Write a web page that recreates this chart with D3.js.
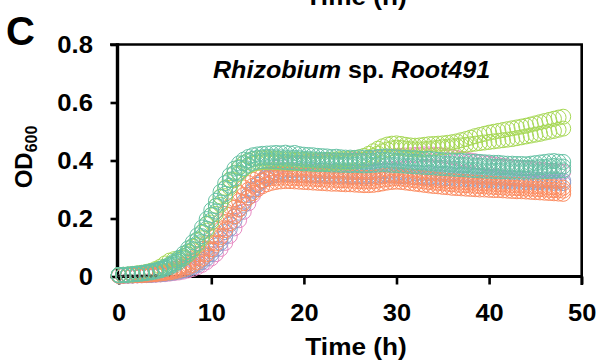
<!DOCTYPE html>
<html><head><meta charset="utf-8">
<script src="https://cdn.jsdelivr.net/npm/d3@7"></script>
<style>
html,body{margin:0;padding:0;background:#fff;}
svg{display:block;font-family:"Liberation Sans",Arial,Helvetica,sans-serif;}
</style></head>
<body><svg id="chart" width="598" height="362"></svg>
<script>
// ---- data (OD600) ----
const hours = [0,0.5,1,1.5,2,2.5,3,3.5,4,4.5,5,5.5,6,6.5,7,7.5,8,8.5,9,9.5,
 10,10.5,11,11.5,12,12.5,13,13.5,14,14.5,15,15.5,16,16.5,17,17.5,18,18.5,19,19.5,
 20,20.5,21,21.5,22,22.5,23,23.5,24,24.5,25,25.5,26,26.5,27,27.5,28,28.5,29,29.5,
 30,30.5,31,31.5,32,32.5,33,33.5,34,34.5,35,35.5,36,36.5,37,37.5,38,38.5,39,39.5,
 40,40.5,41,41.5,42,42.5,43,43.5,44,44.5,45,45.5,46,46.5,47,47.5,48];

const tealA = [.005,.006,.007,.008,.010,.012,.015,.018,.022,.027,
 .034,.042,.052,.064,.079,.097,.118,.142,.169,.198,
 .229,.261,.292,.322,.349,.372,.390,.403,.412,.418,
 .421,.423,.424,.425,.426,.425,.427,.424,.426,.422,
 .420,.419,.418,.416,.415,.414,.412,.413,.411,.410,
 .410,.409,.411,.410,.409,.410,.412,.413,.414,.412,
 .411,.410,.409,.408,.408,.406,.405,.406,.404,.402,
 .401,.400,.400,.398,.399,.397,.396,.396,.395,.394,
 .393,.392,.392,.390,.389,.389,.388,.388,.387,.389,
 .391,.393,.395,.397,.398,.396,.395];
const tealB = [.004,.005,.006,.007,.008,.010,.012,.014,.017,.021,
 .026,.032,.040,.050,.062,.077,.094,.115,.139,.165,
 .194,.224,.255,.285,.313,.338,.358,.374,.385,.392,
 .396,.398,.399,.398,.397,.396,.395,.394,.393,.392,
 .390,.390,.389,.388,.388,.387,.386,.386,.385,.385,
 .384,.385,.384,.383,.384,.385,.386,.387,.386,.385,
 .384,.383,.382,.381,.380,.379,.378,.377,.376,.375,
 .374,.373,.372,.371,.370,.369,.368,.367,.366,.365,
 .365,.364,.364,.363,.363,.362,.362,.362,.362,.362,
 .362,.362,.363,.364,.365,.366,.366];
const tealC = [.005,.005,.006,.008,.009,.011,.013,.016,.020,.024,
 .030,.037,.046,.057,.070,.087,.106,.128,.154,.182,
 .212,.243,.274,.304,.332,.356,.375,.390,.400,.406,
 .409,.411,.412,.412,.411,.411,.410,.410,.409,.408,
 .406,.405,.404,.403,.402,.401,.400,.400,.399,.398,
 .398,.399,.398,.397,.398,.399,.401,.402,.401,.400,
 .399,.398,.397,.396,.395,.394,.393,.392,.391,.390,
 .389,.388,.387,.386,.385,.384,.383,.382,.381,.380,
 .379,.378,.378,.377,.376,.376,.375,.375,.374,.375,
 .376,.377,.378,.380,.381,.380,.379];
const limeA = [.005,.006,.007,.009,.011,.013,.016,.020,.026,.034,
 .045,.055,.060,.062,.070,.084,.103,.126,.152,.181,
 .212,.244,.276,.306,.334,.358,.377,.391,.400,.405,
 .407,.408,.408,.407,.406,.405,.404,.404,.403,.402,
 .402,.401,.401,.400,.401,.402,.403,.404,.405,.405,
 .406,.408,.411,.416,.423,.432,.441,.449,.455,.458,
 .459,.457,.454,.452,.451,.452,.454,.456,.457,.458,
 .459,.461,.463,.466,.470,.474,.479,.484,.488,.492,
 .496,.499,.502,.505,.508,.511,.514,.517,.520,.524,
 .528,.532,.536,.540,.544,.548,.551];
const limeB = [.004,.005,.006,.007,.009,.011,.013,.016,.020,.025,
 .032,.040,.048,.056,.064,.075,.090,.109,.132,.158,
 .186,.216,.247,.277,.306,.332,.354,.370,.381,.388,
 .392,.394,.395,.395,.394,.393,.393,.392,.391,.391,
 .390,.390,.389,.389,.390,.391,.392,.392,.393,.394,
 .395,.397,.399,.403,.409,.416,.424,.432,.438,.442,
 .444,.443,.441,.439,.438,.438,.439,.441,.442,.444,
 .446,.447,.449,.450,.452,.454,.456,.458,.460,.462,
 .464,.466,.468,.470,.472,.474,.477,.480,.483,.486,
 .489,.492,.496,.499,.502,.506,.510];
const salmonA = [.004,.004,.005,.005,.006,.007,.008,.010,.012,.014,
 .017,.021,.026,.032,.040,.050,.062,.077,.095,.116,
 .139,.164,.190,.216,.242,.266,.288,.307,.322,.334,
 .342,.347,.350,.351,.352,.352,.351,.351,.350,.350,
 .349,.349,.348,.347,.347,.346,.345,.345,.344,.344,
 .343,.342,.341,.340,.340,.341,.343,.346,.348,.350,
 .350,.349,.347,.345,.343,.341,.339,.337,.335,.333,
 .332,.330,.329,.328,.327,.326,.325,.324,.323,.322,
 .321,.320,.319,.318,.317,.316,.316,.315,.314,.313,
 .312,.311,.310,.309,.308,.307,.306];
const salmonB = [.003,.003,.004,.004,.005,.005,.006,.007,.008,.010,
 .012,.014,.017,.021,.026,.032,.040,.050,.062,.077,
 .094,.114,.136,.160,.184,.208,.231,.253,.272,.288,
 .301,.311,.318,.323,.326,.328,.329,.329,.328,.327,
 .326,.325,.324,.323,.322,.321,.320,.320,.319,.318,
 .318,.317,.316,.315,.315,.316,.318,.321,.324,.326,
 .327,.326,.324,.322,.320,.318,.316,.314,.312,.311,
 .309,.308,.306,.305,.304,.303,.302,.301,.300,.300,
 .299,.298,.298,.297,.296,.295,.294,.294,.293,.292,
 .291,.290,.289,.288,.287,.286,.285];
const salmonC = [.003,.004,.004,.005,.005,.006,.007,.008,.010,.012,
 .014,.017,.021,.026,.033,.041,.051,.063,.078,.096,
 .116,.139,.163,.188,.213,.237,.260,.281,.299,.313,
 .323,.331,.336,.339,.340,.341,.341,.340,.340,.339,
 .338,.338,.337,.336,.335,.334,.334,.333,.332,.332,
 .331,.330,.329,.328,.328,.329,.331,.334,.336,.338,
 .339,.338,.336,.334,.332,.330,.328,.326,.324,.323,
 .321,.320,.318,.317,.316,.315,.314,.313,.312,.311,
 .310,.309,.308,.307,.306,.306,.305,.304,.303,.303,
 .302,.301,.300,.299,.298,.297,.296];
const purpleA = [.003,.003,.003,.004,.004,.005,.005,.006,.007,.008,
 .010,.012,.014,.017,.021,.026,.032,.040,.050,.062,
 .077,.095,.116,.139,.165,.192,.220,.247,.273,.296,
 .316,.332,.345,.354,.360,.364,.366,.367,.367,.366,
 .366,.365,.365,.364,.364,.363,.363,.362,.362,.361,
 .361,.360,.360,.360,.360,.361,.362,.363,.363,.362,
 .361,.360,.359,.358,.357,.357,.356,.356,.355,.355,
 .354,.353,.352,.351,.350,.349,.348,.347,.346,.345,
 .344,.343,.342,.341,.340,.339,.338,.337,.336,.335,
 .334,.333,.332,.332,.331,.330,.330];
const purpleB = [.003,.003,.004,.004,.005,.005,.006,.007,.008,.009,
 .011,.013,.016,.020,.025,.031,.038,.047,.058,.072,
 .088,.107,.129,.153,.179,.206,.233,.258,.281,.301,
 .317,.330,.340,.346,.350,.352,.353,.353,.352,.352,
 .351,.351,.350,.350,.349,.349,.348,.348,.347,.347,
 .346,.346,.346,.345,.346,.347,.348,.349,.349,.348,
 .347,.346,.345,.344,.344,.343,.343,.342,.341,.341,
 .340,.339,.338,.337,.337,.336,.335,.334,.333,.333,
 .332,.331,.330,.330,.329,.328,.328,.327,.326,.326,
 .325,.325,.324,.324,.323,.323,.322];
const pink = [.003,.003,.003,.003,.004,.004,.005,.005,.006,.007,
 .008,.010,.012,.014,.017,.021,.026,.032,.040,.050,
 .062,.077,.095,.116,.140,.166,.194,.223,.252,.280,
 .306,.329,.348,.363,.374,.382,.387,.390,.392,.393,
 .394,.395,.396,.396,.397,.398,.398,.399,.400,.400,
 .401,.402,.403,.404,.405,.407,.409,.411,.413,.414,
 .415,.416,.417,.418,.419,.420,.421,.421,.420,.419,
 .417,.415,.412,.409,.406,.403,.400,.397,.394,.391,
 .389,.386,.384,.382,.380,.378,.376,.374,.373,.371,
 .370,.368,.367,.365,.364,.362,.361];
const blankHours = [0,0.5,1,1.5,2,2.5,3,3.5,4];
const blank = [.003,.002,.003,.002,.003,.002,.003,.002,.003];

const seriesNames = ["pink","purpleA","purpleB","salmonB","salmonC","salmonA","limeB","limeA","tealB","tealC","tealA"];
const seriesValues = [pink,purpleA,purpleB,salmonB,salmonC,salmonA,limeB,limeA,tealB,tealC,tealA];
const seriesColors = ["#e78ac3","#8da0cb","#8da0cb","#fc8d62","#fc8d62","#fc8d62","#a6d854","#a6d854","#66c2a5","#66c2a5","#66c2a5"];

const xTicks = [0,10,20,30,40,50];
const yTicks = [0,0.2,0.4,0.6,0.8];
const yTickLabels = ["0","0.2","0.4","0.6","0.8"];
const titleParts = [["Rhizobium","italic"],[" sp. ","normal"],["Root491","italic"]];

// ---- drawing ----
const svg = d3.select("#chart");
const x = d3.scaleLinear().domain([0,50]).range([118.7,581.7]);
const y = d3.scaleLinear().domain([0,0.8]).range([276.5,44.5]);
const axisLeftX = 117.5;

function stretch(sel, factor){
  sel.each(function(){
    const n = this; const w = n.getComputedTextLength();
    n.setAttribute("textLength", (w*factor).toFixed(1));
    n.setAttribute("lengthAdjust","spacingAndGlyphs");
  });
}

// top cut-off label of the previous panel (cut by the picture's edge, as in the reference)
svg.append("text").attr("x",356).attr("y",5).attr("text-anchor","middle")
  .attr("font-size",24).attr("font-weight","bold").text("Time (h)").call(stretch,1.09);

// panel label
svg.append("text").attr("x",6).attr("y",45).attr("font-size",40).attr("font-weight","bold").text("C");

// frame: top and right
svg.append("line").attr("x1",110).attr("x2",x(50)+1.25).attr("y1",y(0.8)).attr("y2",y(0.8))
  .attr("stroke","#000").attr("stroke-width",2.6);
svg.append("line").attr("x1",x(50)).attr("x2",x(50)).attr("y1",y(0.8)).attr("y2",285)
  .attr("stroke","#000").attr("stroke-width",2.6);

// x axis
const gx = svg.append("g").attr("transform",`translate(0,${y(0)})`)
  .call(d3.axisBottom(x).tickValues(xTicks).tickSize(8).tickSizeOuter(0).tickPadding(19).tickFormat(d3.format("d")));
gx.select(".domain").attr("stroke-width",3.2).attr("d",`M${axisLeftX-1.5},0H${x(50)+1.3}`);
gx.selectAll(".tick line").attr("stroke-width",2.6);
gx.selectAll(".tick text").attr("font-size",24).attr("font-weight","bold").attr("fill","#000")
  .attr("font-family","'Liberation Sans',Arial,Helvetica,sans-serif").call(stretch,1.06);

// y axis
const gy = svg.append("g").attr("transform",`translate(${axisLeftX},0)`)
  .call(d3.axisLeft(y).tickValues(yTicks).tickSize(7).tickSizeOuter(0).tickPadding(17.5)
    .tickFormat((d,i)=>yTickLabels[i]));
gy.select(".domain").attr("stroke-width",3.4).attr("d",`M0,${y(0.8)-1.3}V${y(0)+1.5}`);
gy.selectAll(".tick line").attr("stroke-width",2.6);
gy.selectAll(".tick text").attr("font-size",24).attr("font-weight","bold").attr("fill","#000")
  .attr("font-family","'Liberation Sans',Arial,Helvetica,sans-serif").call(stretch,1.07);

// axis titles
svg.append("text").attr("x",356).attr("y",355).attr("text-anchor","middle")
  .attr("font-size",24).attr("font-weight","bold").text("Time (h)").call(stretch,1.09);

const yl = svg.append("text").attr("transform","translate(32,157) rotate(-90)")
  .attr("text-anchor","middle").attr("font-size",24).attr("font-weight","bold");
yl.append("tspan").text("OD");
yl.append("tspan").attr("font-size",16).attr("dy",5).text("600");

// title
const tt = svg.append("text").attr("x",213).attr("y",78).attr("font-size",23).attr("font-weight","bold");
titleParts.forEach(([s,st])=>tt.append("tspan").attr("font-style",st).text(s));
stretch(tt,1.09);

// data markers
const gm = svg.append("g");
seriesValues.forEach((vals,si)=>{
  gm.append("g").attr("class","series-"+seriesNames[si])
    .selectAll("circle").data(vals.map((v,i)=>[hours[i],v])).join("circle")
    .attr("cx",d=>x(d[0])).attr("cy",d=>y(d[1])).attr("r",7.5)
    .attr("fill","none").attr("stroke",seriesColors[si]).attr("stroke-width",1);
});
gm.append("g").selectAll("circle").data(blank.map((v,i)=>[blankHours[i],v])).join("circle")
  .attr("cx",d=>x(d[0])).attr("cy",d=>y(d[1])).attr("r",1.2)
  .attr("fill","none").attr("stroke","#555").attr("stroke-width",0.8);
</script></body></html>
